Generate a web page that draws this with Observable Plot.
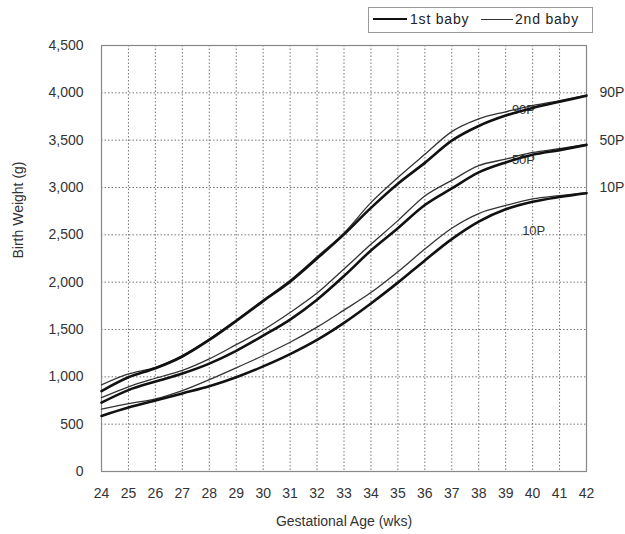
<!DOCTYPE html>
<html><head><meta charset="utf-8">
<script src="https://cdn.jsdelivr.net/npm/d3@7"></script>
<script src="https://cdn.jsdelivr.net/npm/@observablehq/plot@0.6"></script>
<style>
body{margin:0;background:#fff;font-family:"Liberation Sans",Arial,sans-serif;}
#head{position:relative;width:625px;height:33px;}
#legend{position:absolute;left:368px;top:7px;width:225px;height:26px;border:1px solid #999;box-sizing:border-box;background:#fff;font-size:14px;color:#222;letter-spacing:0.8px;}
#legend .ln{position:absolute;top:11px;height:0;}
#legend .tx{position:absolute;top:3px;line-height:17px;}
</style></head>
<body>
<div id="head"><div id="legend">
<div class="ln" style="left:4px;width:34px;border-top:2.6px solid #111;top:10px"></div>
<div class="tx" style="left:41px">1st baby</div>
<div class="ln" style="left:112px;width:32px;border-top:1.3px solid #333"></div>
<div class="tx" style="left:146px">2nd baby</div>
</div></div>
<div id="chart"></div>
<script>
const weeks = [24,25,26,27,28,29,30,31,32,33,34,35,36,37,38,39,40,41,42];
const yTicks = [0,500,1000,1500,2000,2500,3000,3500,4000,4500];
// 1st baby (thick)
const first90 = [850,995,1090,1215,1390,1590,1800,2005,2250,2505,2785,3040,3260,3495,3650,3760,3840,3905,3970];
const first50 = [728,860,950,1035,1140,1275,1435,1605,1815,2065,2335,2570,2815,2990,3160,3265,3345,3395,3450];
const first10 = [587,675,750,825,900,995,1110,1240,1390,1570,1775,1995,2230,2455,2640,2770,2850,2900,2940];
// 2nd baby (thin)
const second90 = [915,1030,1100,1225,1398,1600,1812,2020,2268,2520,2840,3105,3350,3590,3725,3800,3865,3918,3975];
const second50 = [780,895,985,1068,1190,1340,1495,1680,1885,2140,2400,2650,2910,3075,3230,3300,3370,3410,3455];
const second10 = [658,717,768,855,970,1095,1225,1365,1525,1705,1890,2110,2350,2570,2725,2810,2880,2915,2945];
const pctNames = ["90P","50P","10P"];
const rightLabelY = [4000,3500,3000];
const innerLabelX = [39.66,39.66,40.04];
const innerLabelY = [3823,3294,2543];

const series = [
  {baby:"1st baby", pct:"90P", values:first90},
  {baby:"1st baby", pct:"50P", values:first50},
  {baby:"1st baby", pct:"10P", values:first10},
  {baby:"2nd baby", pct:"90P", values:second90},
  {baby:"2nd baby", pct:"50P", values:second50},
  {baby:"2nd baby", pct:"10P", values:second10}
];
const rows = [];
series.forEach(s => weeks.forEach((w,i) => rows.push({week:w, weight:s.values[i], baby:s.baby, pct:s.pct})));
const inner = pctNames.map((p,i) => ({x:innerLabelX[i], y:innerLabelY[i], t:p}));
const right = pctNames.map((p,i) => ({x:42, y:rightLabelY[i], t:p}));

const chart = Plot.plot({
  width:625, height:501,
  marginTop:12, marginBottom:63, marginLeft:101, marginRight:39,
  style:{fontFamily:"'Liberation Sans', Arial, sans-serif", fontSize:"14px", color:"#333", background:"#fff", overflow:"visible"},
  x:{domain:[24,42]},
  y:{domain:[0,4500]},
  marks:[
    Plot.gridX({ticks:weeks, stroke:"#777", strokeOpacity:1, strokeDasharray:"1.5,2"}),
    Plot.gridY({ticks:yTicks, stroke:"#777", strokeOpacity:1, strokeDasharray:"1.5,2"}),
    Plot.frame({stroke:"#888", strokeWidth:1.2}),
    Plot.axisX({ticks:weeks, tickSize:0, tickPadding:17, label:null, tickFormat:d=>String(d), letterSpacing:"0.5px"}),
    Plot.axisY({ticks:yTicks, tickSize:0, tickPadding:18, label:null, tickFormat:d3.format(","), letterSpacing:"0.5px"}),
    Plot.text(inner, {x:"x", y:"y", text:"t", fontSize:13, fill:"#333"}),
    Plot.line(rows.filter(d => d.baby === "2nd baby"), {x:"week", y:"weight", z:"pct", stroke:"#333", strokeWidth:1.3, curve:"monotone-x"}),
    Plot.line(rows.filter(d => d.baby === "1st baby"), {x:"week", y:"weight", z:"pct", stroke:"#111", strokeWidth:2.6, curve:"monotone-x"}),
    Plot.text(right, {x:"x", y:"y", text:"t", dx:13, textAnchor:"start", fontSize:14, fill:"#333"}),
    Plot.text(["Gestational Age (wks)"], {text:d=>d, frameAnchor:"bottom", dy:54, fontSize:14, fill:"#333", letterSpacing:"0.9px"}),
    Plot.text(["Birth Weight (g)"], {text:d=>d, frameAnchor:"left", dx:-83, rotate:-90, fontSize:14, fill:"#333", letterSpacing:"0.9px"})
  ]
});
document.getElementById("chart").appendChild(chart);
</script>
</body></html>
